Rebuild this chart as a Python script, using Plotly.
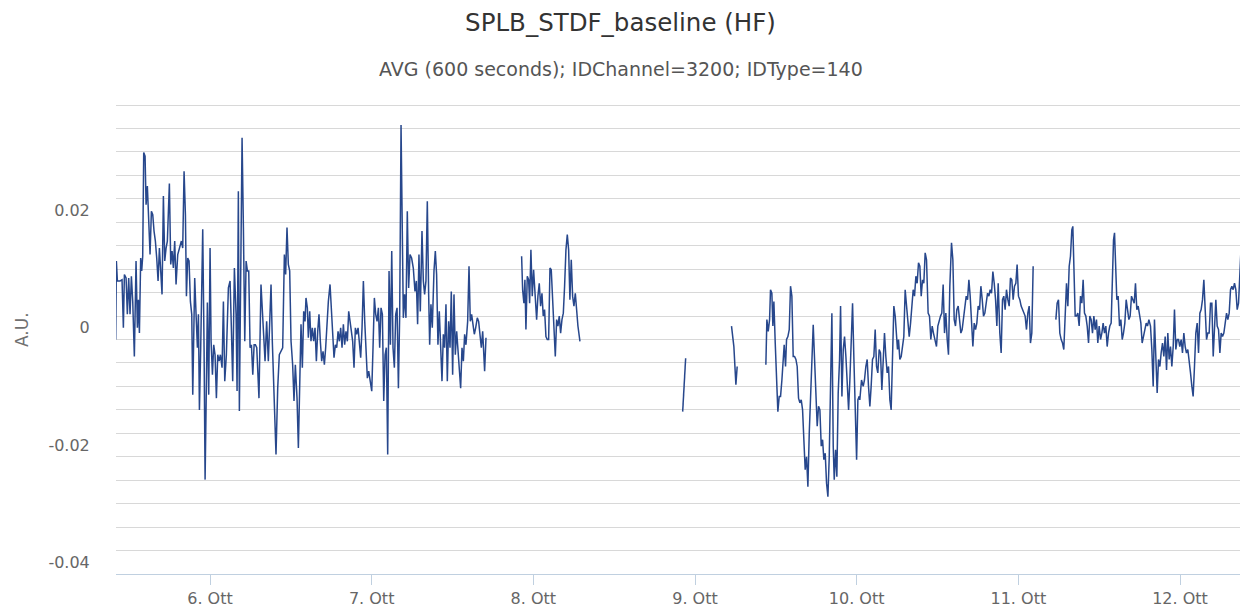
import plotly.graph_objects as go
import pandas as pd

TITLE = "SPLB_STDF_baseline (HF)"
SUBTITLE = "AVG (600 seconds); IDChannel=3200; IDType=140"
Y_LABEL = "A.U."
BASE_DATE = "2014-10-05"          # hours below are counted from this midnight
X_TICK_DAYS = [6, 7, 8, 9, 10, 11, 12]
X_TICK_TEXT = ["6. Ott", "7. Ott", "8. Ott", "9. Ott", "10. Ott", "11. Ott", "12. Ott"]
Y_TICK_VALS = [-0.04, -0.02, 0, 0.02]
Y_TICK_TEXT = ["-0.04", "-0.02", "0", "0.02"]
X_RANGE_HOURS = [10.045, 176.907]
Y_RANGE = [-0.042, 0.03835]

# (hours since BASE_DATE, value in 1e-3 A.U.)
seg1 = [(10.0,-2.0),(10.1,11.4),(10.25,8.0),(10.65,8.0),(10.94,8.2),(11.14,0.0),(11.29,9.1),(11.54,8.5),(11.73,2.3),(11.93,8.5),(12.13,2.3),(12.33,8.8),(12.53,4.5),(12.77,-4.9),(13.02,11.4),(13.22,0.0),(13.37,4.8),(13.52,-0.9),(13.71,11.9),(13.86,9.7),(14.01,12.2),(14.16,29.9),(14.36,29.3),(14.51,21.0),(14.70,24.2),(14.90,19.3),(15.10,12.5),(15.30,19.9),(15.50,19.3),(15.69,16.5),(15.89,14.8),(16.09,11.9),(16.29,8.0),(16.49,13.6),(16.68,9.1),(16.88,5.7),(17.08,22.5),(17.28,11.4),(17.48,13.6),(17.67,14.8),(17.97,24.6),(18.17,10.8),(18.37,13.1),(18.56,10.2),(18.76,14.8),(18.96,7.4),(19.21,12.5),(19.46,13.6),(19.75,14.8),(19.95,13.6),(20.15,26.7),(20.35,19.3),(20.50,5.4),(20.69,11.9),(20.89,11.4),(21.09,4.5),(21.29,2.3),(21.44,-11.4),(21.58,2.3),(21.73,8.5),(21.93,2.3),(22.13,-3.4),(22.28,2.3),(22.43,-14.0),(22.62,-3.4),(22.92,16.8),(23.12,-3.4),(23.27,-25.9),(23.47,-9.1),(23.61,4.3),(23.81,-11.4),(24.01,13.6),(24.16,-2.3),(24.36,-8.0),(24.55,-2.9),(24.75,-4.6),(24.95,-12.0),(25.15,-4.6),(25.35,-5.7),(25.54,-4.6),(25.79,-6.8),(25.99,4.5),(26.19,-9.1),(26.43,-4.6),(26.73,6.8),(26.98,8.0),(27.17,0.0),(27.37,-9.1),(27.62,10.2),(27.87,2.3),(28.02,-10.8),(28.21,23.3),(28.36,-14.2),(28.56,10.8),(28.76,32.4),(28.96,17.1),(29.16,-2.3),(29.36,11.4),(29.55,9.7),(29.75,9.7),(29.95,-3.4),(30.15,-2.9),(30.35,-8.0),(30.55,-2.9),(30.74,-2.9),(30.94,-3.4),
        (31.27,-12.0),(31.57,7.4),(31.77,2.8),(32.17,-5.7),(32.41,1.1),(32.66,-5.7),(33.06,7.4),(33.25,-2.3),(33.80,-21.6),(34.05,-10.3),(34.29,-4.6),(34.54,-4.0),(34.79,-3.4),(35.04,12.5),(35.23,9.1),(35.43,17.1),(35.63,10.8),(35.83,9.7),(36.03,-2.3),(36.27,-6.3),(36.47,-12.5),(36.67,-6.3),(36.92,-12.0),(37.12,-20.5),(37.31,-6.8),(37.51,0.6),(37.71,-6.8),(37.91,2.8),(38.11,1.1),(38.25,5.1),(38.45,3.4),(38.60,-1.7),(38.80,2.8),(38.99,-2.3),(39.19,0.0),(39.39,-2.3),(39.59,0.0),(39.79,-5.7),(39.99,-0.6),(40.18,2.3),(40.38,-2.3),(40.58,-5.7),(40.78,-4.0),(40.98,-6.3),(41.17,-3.4),(41.37,1.1),(41.57,4.5),(41.82,7.4),(42.02,3.4),(42.21,-2.3),(42.41,-5.1),(42.61,-2.9),(42.81,-3.4),(43.01,-0.6),(43.20,-2.3),(43.40,0.0),(43.60,-3.4),(43.80,0.6),(43.99,-2.9),(44.19,-0.6),(44.39,-2.3),(44.59,2.8),(44.79,0.6),(44.99,-0.6),(45.18,-2.3),(45.38,-6.8),(45.58,0.0),(45.78,-1.1),(45.98,0.0),(46.17,-2.3),(46.37,-5.1),(46.57,0.0),(46.77,8.0),(46.97,1.1),(47.16,-3.4),(47.36,-8.6),(47.56,-7.4),(47.76,-9.1),(48.01,-10.8),(48.20,-3.4),(48.40,5.1),(48.60,2.3),(48.80,1.1),(49.00,3.4),(49.19,-3.4),(49.39,3.4),(49.59,2.3),(49.79,-12.5),(49.99,-4.6),(50.18,-3.4),(50.38,-21.6),(50.58,9.7),(50.78,-2.9),(50.98,13.1),(51.17,-3.4),(51.37,-6.8),(51.57,2.3),(51.77,3.4),(51.97,-10.3),(52.16,2.3),(52.36,34.6),
        (52.70,1.7),(52.89,5.7),(53.09,1.7),(53.29,19.9),(53.49,6.8),(53.69,12.5),(53.93,11.9),(54.18,10.2),(54.43,6.2),(54.63,8.0),(54.82,0.6),(55.02,12.5),(55.22,2.8),(55.47,16.5),(55.67,8.0),(55.86,5.7),(56.06,8.0),(56.26,21.6),(56.46,5.7),(56.61,-2.9),(56.80,4.0),(57.00,0.0),(57.25,9.7),(57.45,13.1),(57.64,9.1),(57.84,-2.9),(58.04,2.8),(58.24,-2.9),(58.44,-9.1),(58.64,-1.1),(58.83,-3.4),(59.03,4.0),(59.23,-9.1),(59.43,1.1),(59.63,-3.4),(59.82,6.2),(60.02,-8.0),(60.22,5.7),(60.42,-4.6),(60.62,-0.6),(60.81,-3.4),(61.01,-6.8),(61.21,-10.3),(61.41,-3.4),(61.61,-5.7),(61.80,-1.1),(62.00,-2.9),(62.25,1.1),(62.45,10.5),(62.64,1.1),(62.84,2.3),(63.04,0.6),(63.24,-1.1),(63.44,0.0),(63.68,1.7),(63.88,1.1),(64.08,-1.1),(64.28,-3.4),(64.48,-0.6),(64.62,-5.1),(64.77,-7.4),(64.97,-1.7)]

seg2 = [(70.26,12.2),(70.41,6.5),(70.60,4.2),(70.75,8.2),(70.90,-0.3),(71.10,8.8),(71.30,8.2),(71.45,4.2),(71.64,13.3),(71.84,5.4),(72.04,9.9),(72.24,6.5),(72.49,1.4),(72.68,5.4),(72.88,7.6),(73.08,3.7),(73.28,5.9),(73.47,2.0),(73.67,3.1),(73.87,-1.5),(74.07,-2.0),(74.27,-2.0),(74.47,10.2),(74.66,9.9),(74.86,5.4),(75.06,-0.9),(75.26,-4.9),(75.46,1.4),(75.65,0.3),(75.85,2.0),(76.05,-0.9),(76.25,1.4),(76.45,2.5),(76.64,7.1),(76.84,13.3),(77.04,15.9),(77.24,13.3),(77.43,4.8),(77.63,11.6),(77.83,5.4),(78.03,3.7),(78.23,5.9),(78.42,3.1),(78.62,0.3),(78.92,-2.3)]

seg3 = [(94.17,-14.3),(94.61,-5.2)]

seg4 = [(101.42,0.3),(101.77,-3.2),(102.07,-9.7),(102.26,-6.6)]

seg5 = [(106.52,-6.3),(106.67,1.4),(106.87,-0.6),(107.07,1.4),(107.21,6.5),(107.41,5.9),(107.56,0.3),(107.71,4.5),(107.91,-2.6),(108.11,-10.0),(108.30,-14.3),(108.50,-11.7),(108.70,-11.7),(108.90,-8.9),(109.09,-5.4),(109.24,-2.9),(109.44,-6.6),(109.59,-2.0),(109.79,-1.5),(109.99,-0.3),(110.18,7.1),(110.38,5.4),(110.58,-4.9),(110.78,-4.9),(110.98,-5.4),(111.17,-6.6),(111.37,-12.0),(111.57,-12.8),(111.77,-12.3),(111.97,-14.0),(112.16,-19.1),(112.36,-24.2),(112.56,-22.0),(112.76,-27.1),(112.96,-18.0),(113.15,-12.8),(113.35,-7.1),(113.55,0.5),(113.75,-5.4),(113.95,-13.4),(114.14,-16.8),(114.34,-13.4),(114.54,-14.0),(114.74,-20.2),(114.94,-19.1),(115.13,-22.5),(115.33,-21.4),(115.53,-26.5),(115.73,-28.8),(115.93,-22.0),(116.12,-12.3),(116.32,2.5),(116.52,-20.2),(116.67,-25.9),(116.87,-20.8),(117.06,-25.4),(117.26,-11.1),(117.46,-5.4),(117.61,3.7),(117.81,-11.7),(118.01,-3.7),(118.20,-1.5),(118.40,-4.9),(118.60,-10.0),(118.80,-14.0),(118.99,-8.9),(119.19,-0.9),(119.39,4.2),(119.59,-5.4),(119.79,-14.0),(119.99,-22.5),(120.18,-12.3),(120.38,-11.7),
        (120.47,-12.3),(120.72,-8.9),(120.97,-10.0),(121.16,-8.9),(121.36,-6.6),(121.56,-5.4),(121.76,-10.0),(121.96,-13.4),(122.15,-10.0),(122.35,-5.4),(122.55,-4.9),(122.75,-0.3),(122.95,-6.6),(123.14,-7.7),(123.34,-3.7),(123.54,-4.3),(123.74,-10.6),(123.94,-5.4),(124.13,-0.9),(124.33,-4.9),(124.53,-7.7),(124.73,-6.6),(124.93,-12.3),(125.12,-14.0),(125.32,-2.6),(125.52,3.7),(125.72,2.0),(125.92,-0.9),(126.06,-3.7),(126.21,-2.0),(126.41,-5.4),(126.61,-4.9),(126.81,-3.2),(127.00,-1.5),(127.20,6.5),(127.40,3.7),(127.60,1.4),(127.80,-1.5),(128.00,0.8),(128.19,3.1),(128.39,6.5),(128.59,5.4),(128.79,8.8),(128.98,7.6),(129.18,11.1),(129.38,10.5),(129.58,5.4),(129.78,8.2),(129.97,7.6),(130.17,12.8),(130.37,11.6),(130.61,2.5),(130.81,2.0),(131.01,-2.0),(131.21,0.3),(131.40,-0.9),(131.65,-2.0),(131.85,-3.2),(132.05,0.3),(132.25,1.4),(132.45,2.0),(132.64,2.5),(132.84,7.4),(133.04,-0.9),(133.24,2.5),(133.44,-2.0),(133.63,-4.6),(133.83,7.1),(134.08,14.5),(134.28,11.6),(134.48,1.4),(134.67,0.3),(134.87,3.1),(135.07,3.7),(135.27,0.8),(135.47,-0.9),(135.66,-0.3),(135.86,2.0),(136.06,4.2),(136.26,5.4),(136.46,4.8),(136.66,8.2),(136.85,5.4),(137.05,-0.3),(137.25,-3.2),(137.45,0.8),(137.65,-0.3),(137.84,0.8),(138.04,3.7),(138.24,3.1),(138.44,7.1),(138.64,4.8),(138.83,2.0),(139.03,2.5),(139.23,4.8),(139.43,5.9),(139.63,5.4),(139.82,6.5),(140.02,5.9),(140.22,9.6),(140.42,7.6),(140.62,4.8),(140.81,0.3),(141.01,7.6),
        (141.25,-0.9),(141.45,-4.3),(141.65,4.8),(141.84,5.4),(142.04,3.1),(142.24,6.5),(142.44,4.8),(142.64,3.7),(142.83,8.5),(143.03,8.2),(143.23,4.8),(143.43,7.1),(143.63,7.6),(143.82,10.8),(144.02,5.4),(144.22,4.8),(144.42,3.7),(144.62,3.1),(144.81,2.5),(145.01,2.0),(145.21,-0.3),(145.41,2.5),(145.61,3.7),(145.80,-2.6),(146.00,-0.9),(146.20,10.5)]

seg6 = [(149.57,1.4),(149.76,4.2),(149.96,4.8),(150.16,-0.9),(150.36,-2.0),(150.56,-2.6),(150.75,-3.7),(150.95,1.4),(151.15,7.6),(151.35,3.7),(151.55,10.5),(151.74,12.2),(151.94,16.7),(152.09,17.3),(152.24,10.5),(152.44,2.0),(152.63,2.0),(152.83,2.5),(153.03,0.3),(153.23,5.4),(153.43,4.2),(153.62,8.2),(153.82,2.5),(154.02,2.0),(154.22,0.3),(154.42,-2.6),(154.61,2.0),(154.81,1.4),(155.01,-0.9),(155.21,2.0),(155.41,-0.3),(155.60,1.4),(155.80,-2.6),(156.00,0.3),(156.20,-2.0),(156.40,-0.9),(156.59,0.8),(156.79,-0.9),(156.99,0.3),(157.19,-3.2),(157.39,-0.9),(157.58,0.3),(157.78,0.8),(157.98,7.6),(158.13,15.0),(158.28,16.2),(158.43,10.5),(158.62,4.8),(158.82,5.4),(159.02,0.3),(159.22,1.4),(159.42,-2.0),(159.61,-0.9),(159.81,0.8),(160.01,4.8),(160.21,3.1),(160.41,1.4),(160.60,2.0),(160.80,5.4),(161.00,4.8),(161.20,4.2),(161.39,7.6),(161.59,3.1),(161.79,3.7),(161.99,2.5),(162.19,0.8),(162.38,-2.6),(162.58,-1.5),(162.78,-0.9),(162.98,0.8),(163.18,0.3),(163.38,1.4),
        (163.62,0.3),(163.82,-3.7),(164.02,-10.0),(164.21,1.4),(164.41,-4.9),(164.61,-11.1),(164.81,-5.4),(165.01,-6.6),(165.20,-4.3),(165.40,-2.6),(165.60,-4.9),(165.80,-1.5),(166.00,-7.2),(166.19,-0.9),(166.39,-5.4),(166.59,-3.2),(166.79,-6.6),(166.99,-3.2),(167.18,3.1),(167.38,-3.7),(167.58,-2.0),(167.78,-2.0),(167.97,-3.2),(168.17,-2.0),(168.37,-4.3),(168.57,-0.9),(168.77,-3.2),(168.96,-4.3),(169.16,-3.7),(169.36,-5.4),(169.56,-7.7),(169.76,-10.0),(169.95,-11.7),(170.15,-6.6),(170.35,-0.9),(170.55,0.8),(170.75,-4.3),(170.95,2.5),(171.14,3.1),(171.34,4.8),(171.54,8.2),(171.74,3.1),(171.94,-2.0),(172.13,-0.9),(172.33,-0.9),(172.53,4.2),(172.73,4.2),(172.93,-4.9),(173.12,0.8),(173.32,4.8),(173.52,0.3),(173.72,-0.3),(173.92,-4.3),(174.11,-0.9),(174.31,-1.5),(174.51,-0.9),(174.71,0.8),(174.91,2.5),(175.10,1.4),(175.30,2.5),(175.50,6.5),(175.70,7.1),(175.89,6.5),(176.09,7.6),(176.29,6.5),(176.49,3.1),(176.69,4.2),(176.88,8.2),(177.03,12.8)]

segments = [seg1, seg2, seg3, seg4, seg5, seg6]

base = pd.Timestamp(BASE_DATE)
def t(h):
    return (base + pd.Timedelta(hours=h)).strftime("%Y-%m-%d %H:%M:%S")

xs, ys = [], []
for seg in segments:
    for h, v in seg:
        xs.append(t(h))
        ys.append(v / 1000.0)
    # break the line between data blocks
    xs.append(t(seg[-1][0] + 0.05))
    ys.append(None)

FONT = "DejaVu Sans"
W, H = 1241, 609
ML, MR, MT, MB = 116, 1, 103, 35
PW, PH = W - ML - MR, H - MT - MB

fig = go.Figure()
fig.add_trace(go.Scatter(x=xs, y=ys, mode="lines", connectgaps=False,
                         line=dict(color="#27478c", width=1.5),
                         hoverinfo="x+y", showlegend=False))

fig.update_layout(
    width=W, height=H,
    margin=dict(l=ML, r=MR, t=MT, b=MB, autoexpand=False),
    paper_bgcolor="white", plot_bgcolor="white",
    font=dict(family=FONT, color="#666666"),
    title=dict(text=TITLE, x=0.5, xref="container", xanchor="center",
               y=1 - 22 / H, yref="container", yanchor="middle",
               font=dict(family=FONT, size=24.5, color="#333333")),
    xaxis=dict(type="date",
               range=[t(X_RANGE_HOURS[0]), t(X_RANGE_HOURS[1])],
               tickmode="array",
               tickvals=[t(24 * (d - 5)) for d in X_TICK_DAYS],
               ticktext=X_TICK_TEXT,
               showgrid=False, zeroline=False,
               showline=True, linecolor="#C0D0E0", linewidth=1,
               ticks="outside", ticklen=10, tickwidth=1, tickcolor="#C0D0E0",
               tickfont=dict(family=FONT, size=16, color="#666666")),
    yaxis=dict(range=Y_RANGE, tickmode="array",
               tickvals=Y_TICK_VALS, ticktext=Y_TICK_TEXT,
               showgrid=False, zeroline=False, showline=False,
               ticks="outside", ticklen=22, tickcolor="rgba(0,0,0,0)",
               tickfont=dict(family=FONT, size=16, color="#666666"),
               minor=dict(tickmode="linear", tick0=0.002, dtick=0.004,
                          showgrid=True, gridcolor="#D8D8D8", gridwidth=1)),
    annotations=[
        dict(text=SUBTITLE, xref="paper", yref="paper",
             x=(620.5 - ML) / PW, y=(H - MB - 69) / PH,
             xanchor="center", yanchor="middle", showarrow=False,
             font=dict(family=FONT, size=19, color="#555555")),
        dict(text=Y_LABEL, xref="paper", yref="paper",
             x=(22 - ML) / PW, y=(H - MB - 330) / PH, textangle=-90,
             xanchor="center", yanchor="middle", showarrow=False,
             font=dict(family=FONT, size=17, color="#707070")),
    ],
)

fig.write_html("out.html", config={"displayModeBar": False},
               post_script="document.body.style.margin='0';")
